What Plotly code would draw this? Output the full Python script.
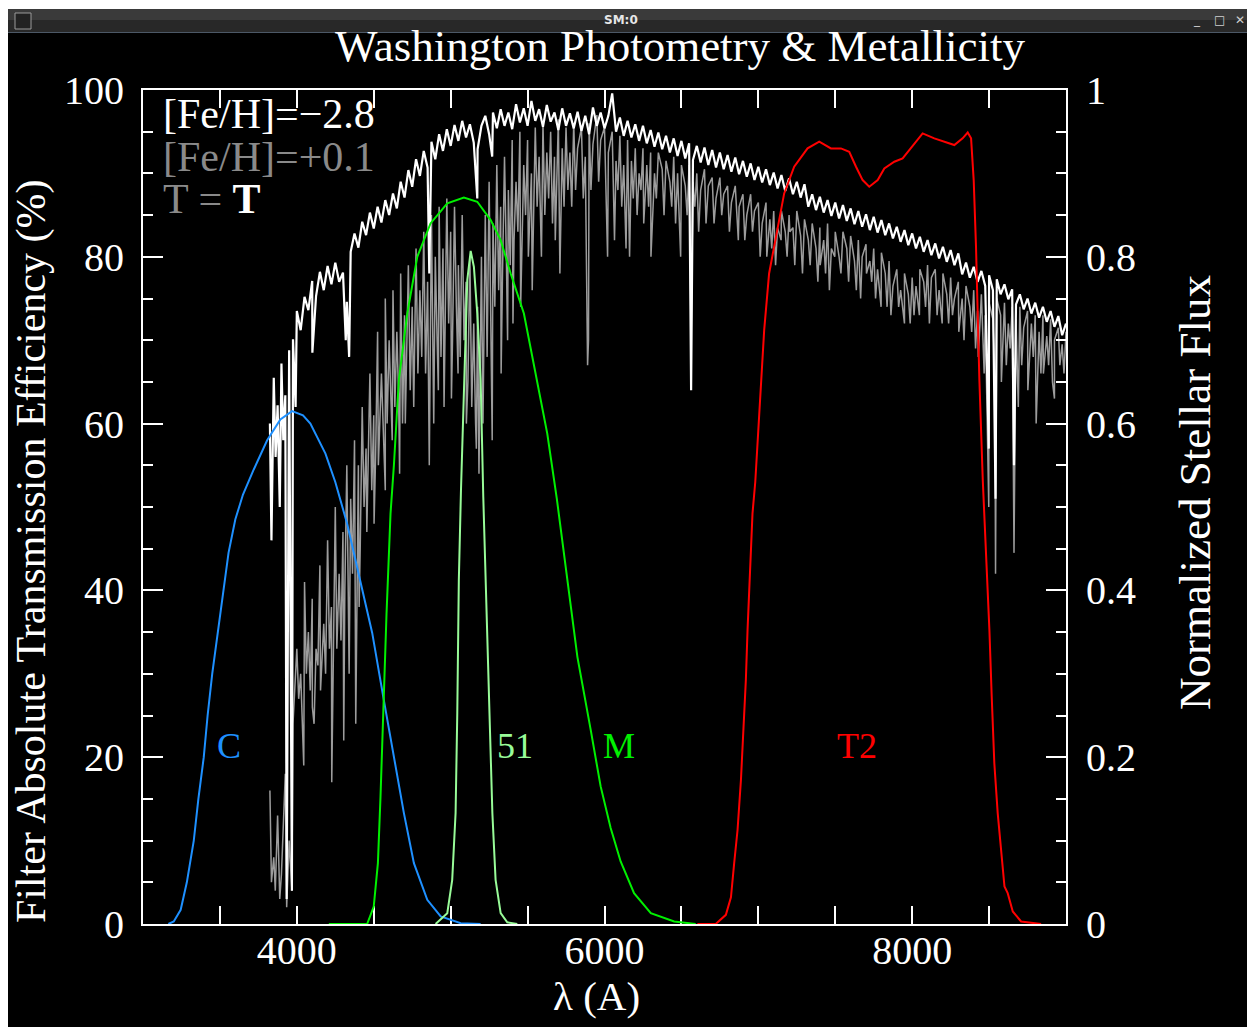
import numpy as np
import plotly.graph_objects as go

# ---------------- data ----------------
# spectra sampled on a 25 A grid from 3825 to 9000 A (normalized flux)
spec_wl = list(range(3825, 9001, 25))

flux_poor = [  # [Fe/H] = -2.8 (white)
    0.600, 0.655, 0.622, 0.672, 0.634, 0.688, 0.701, 0.735, 0.712, 0.752, 0.736, 0.771, 0.753, 0.782, 0.760, 0.789, 0.767, 0.793, 0.770, 0.781,
    0.746, 0.806, 0.828, 0.811, 0.842, 0.826, 0.853, 0.834, 0.860, 0.841, 0.868, 0.850, 0.876, 0.858, 0.890, 0.871, 0.904, 0.884, 0.917, 0.897,
    0.927, 0.907, 0.938, 0.917, 0.947, 0.927, 0.953, 0.933, 0.958, 0.939, 0.963, 0.943, 0.959, 0.937, 0.929, 0.957, 0.969, 0.947, 0.973, 0.954,
    0.977, 0.957, 0.973, 0.953, 0.983, 0.961, 0.978, 0.957, 0.987, 0.963, 0.977, 0.956, 0.982, 0.962, 0.973, 0.952, 0.978, 0.957, 0.972, 0.954,
    0.974, 0.951, 0.969, 0.947, 0.979, 0.957, 0.973, 0.954, 0.969, 0.996, 0.950, 0.967, 0.945, 0.963, 0.943, 0.959, 0.939, 0.957, 0.936, 0.952,
    0.932, 0.949, 0.929, 0.945, 0.925, 0.942, 0.921, 0.939, 0.918, 0.936, 0.916, 0.933, 0.913, 0.931, 0.910, 0.928, 0.907, 0.925, 0.905, 0.922,
    0.902, 0.919, 0.899, 0.915, 0.896, 0.912, 0.892, 0.908, 0.889, 0.905, 0.886, 0.901, 0.882, 0.898, 0.879, 0.894, 0.875, 0.890, 0.871, 0.887,
    0.860, 0.875, 0.856, 0.872, 0.853, 0.868, 0.849, 0.865, 0.846, 0.862, 0.843, 0.858, 0.839, 0.855, 0.836, 0.851, 0.832, 0.848, 0.829, 0.844,
    0.826, 0.840, 0.822, 0.836, 0.818, 0.832, 0.814, 0.828, 0.810, 0.824, 0.806, 0.820, 0.802, 0.816, 0.798, 0.812, 0.794, 0.808, 0.790, 0.804,
    0.779, 0.793, 0.775, 0.788, 0.770, 0.783, 0.765, 0.778, 0.760, 0.773, 0.755, 0.767, 0.749, 0.761, 0.743, 0.755, 0.737, 0.750, 0.732, 0.745,
    0.727, 0.740, 0.722, 0.735, 0.716, 0.729, 0.706, 0.720,
]

flux_rich = [  # [Fe/H] = +0.1 (gray)
    0.16, 0.08, 0.13, 0.06, 0.18, 0.10, 0.24, 0.33, 0.30, 0.41, 0.35, 0.39, 0.33, 0.43, 0.36, 0.46, 0.38, 0.50, 0.42, 0.47,
    0.55, 0.51, 0.58, 0.55, 0.62, 0.57, 0.66, 0.61, 0.71, 0.66, 0.75, 0.70, 0.76, 0.71, 0.78, 0.73, 0.79, 0.74, 0.81, 0.76,
    0.83, 0.77, 0.85, 0.80, 0.86, 0.81, 0.87, 0.83, 0.86, 0.79, 0.85, 0.77, 0.80, 0.72, 0.74, 0.80, 0.85, 0.89, 0.84, 0.91,
    0.86, 0.92, 0.88, 0.94, 0.89, 0.95, 0.91, 0.94, 0.90, 0.955, 0.92, 0.96, 0.925, 0.95, 0.92, 0.965, 0.93, 0.955, 0.925, 0.96,
    0.93, 0.955, 0.92, 0.96, 0.935, 0.97, 0.94, 0.955, 0.925, 0.95, 0.915, 0.945, 0.91, 0.94, 0.915, 0.93, 0.90, 0.93, 0.91, 0.925,
    0.90, 0.925, 0.905, 0.915, 0.89, 0.92, 0.90, 0.91, 0.885, 0.91, 0.89, 0.90, 0.88, 0.905, 0.885, 0.895, 0.87, 0.895, 0.875, 0.885,
    0.865, 0.885, 0.86, 0.875, 0.85, 0.875, 0.855, 0.865, 0.84, 0.865, 0.845, 0.855, 0.835, 0.855, 0.83, 0.85, 0.835, 0.855, 0.825, 0.845,
    0.82, 0.84, 0.81, 0.835, 0.82, 0.84, 0.81, 0.83, 0.80, 0.83, 0.81, 0.825, 0.795, 0.82, 0.80, 0.815, 0.795, 0.81, 0.785, 0.805,
    0.78, 0.795, 0.765, 0.785, 0.76, 0.78, 0.755, 0.775, 0.765, 0.785, 0.77, 0.79, 0.775, 0.785, 0.76, 0.78, 0.755, 0.775, 0.75, 0.77,
    0.75, 0.765, 0.74, 0.76, 0.735, 0.755, 0.73, 0.745, 0.725, 0.75, 0.73, 0.745, 0.72, 0.74, 0.725, 0.74, 0.715, 0.735, 0.72, 0.73,
    0.71, 0.73, 0.705, 0.725, 0.70, 0.715, 0.695, 0.71,
]

# absorption lines (wavelength, line-core flux)
lines_poor_wl = [3835, 3862, 3889, 3912, 3934, 3968, 3992, 4101, 4318, 4340, 4861, 5173, 5270, 6563, 8498, 8542, 8662]
lines_poor_min = [0.46, 0.56, 0.50, 0.58, 0.03, 0.04, 0.62, 0.685, 0.70, 0.68, 0.78, 0.87, 0.92, 0.64, 0.57, 0.51, 0.55]

# strong lines of the metal-rich spectrum
lines_rich_wl = [3835, 3860, 3889, 3934, 3968, 4045, 4101, 4112, 4154, 4227, 4260, 4305, 4340, 4383, 4405,
                 4455, 4502, 4530, 4575, 4620, 4668, 4705, 4760, 4861, 4890, 4920, 4957, 5005, 5048, 5102,
                 5167, 5184, 5210, 5270, 5328, 5370, 5405, 5455, 5505, 5530, 5590, 5680, 5710, 5890, 5896,
                 6020, 6065, 6140, 6163, 6255, 6302, 6495, 6563, 6660, 6870, 7055, 7148, 7205, 7402, 7497,
                 7665, 7703, 7798, 7950, 8047, 8195, 8303, 8430, 8468, 8498, 8542, 8580, 8662, 8690, 8752,
                 8806, 8853, 8925, 8960]
lines_rich_min = [0.05, 0.04, 0.03, 0.02, 0.04, 0.19, 0.26, 0.24, 0.28, 0.17, 0.33, 0.22, 0.30, 0.24, 0.38,
                  0.47, 0.48, 0.55, 0.52, 0.58, 0.54, 0.60, 0.62, 0.55, 0.60, 0.64, 0.62, 0.63, 0.66, 0.60,
                  0.57, 0.54, 0.60, 0.58, 0.66, 0.70, 0.72, 0.74, 0.80, 0.76, 0.80, 0.82, 0.78, 0.67, 0.70,
                  0.80, 0.82, 0.81, 0.80, 0.84, 0.80, 0.80, 0.70, 0.84, 0.82, 0.80, 0.82, 0.83, 0.79, 0.80,
                  0.75, 0.78, 0.74, 0.72, 0.73, 0.72, 0.71, 0.68, 0.66, 0.50, 0.42, 0.65, 0.445, 0.62, 0.64,
                  0.60, 0.66, 0.63, 0.67]

# weaker (blended) lines of the metal-rich spectrum
weak_rich_wl = [4012, 4062, 4087, 4137, 4187, 4212, 4237, 4287,
                4312, 4362, 4412, 4437, 4487, 4512, 4562, 4587, 4637, 4662, 4687, 4737, 4787,
                4812, 4837, 4912, 4937, 4987, 5012, 5037, 5062, 5087, 5112, 5137, 5162, 5237, 5262, 5287,
                5312, 5337, 5362, 5387, 5412, 5437, 5462, 5487, 5512, 5562, 5612, 5637, 5662, 5737, 5762, 5787,
                5812, 5862, 5912, 5962, 6012, 6087, 6112, 6187, 6212, 6237, 6287,
                6337, 6387, 6437, 6462, 6537, 6587, 6612, 6712, 6762, 6812, 6912, 6962,
                7012, 7087, 7112, 7187, 7237, 7287, 7337, 7387, 7437, 7462, 7537, 7587, 7637, 7737, 7762,
                7837, 7862, 7912, 7987,
                8012, 8087, 8112, 8162, 8237, 8262, 8337, 8387, 8412, 8537, 8612, 8637, 8712, 8787, 8837,
                8887, 8912, 8987]
weak_rich_min = [0.27, 0.30, 0.28, 0.31, 0.30, 0.33, 0.35, 0.34,
                 0.40, 0.42, 0.45, 0.50, 0.52, 0.56, 0.58, 0.60, 0.62, 0.63, 0.60, 0.64, 0.66,
                 0.68, 0.66, 0.70, 0.68, 0.72, 0.70, 0.74, 0.68, 0.70, 0.65, 0.62, 0.60, 0.68, 0.70, 0.74,
                 0.76, 0.78, 0.80, 0.79, 0.82, 0.83, 0.80, 0.85, 0.84, 0.86, 0.85, 0.87, 0.84, 0.86, 0.88, 0.86,
                 0.88, 0.87, 0.88, 0.89, 0.86, 0.88, 0.86, 0.87, 0.85, 0.88, 0.86,
                 0.87, 0.85, 0.86, 0.84, 0.85, 0.86, 0.83, 0.84, 0.85, 0.83, 0.82, 0.83,
                 0.80, 0.81, 0.79, 0.80, 0.79, 0.78, 0.79, 0.77, 0.78, 0.76, 0.78, 0.77, 0.76, 0.77, 0.75,
                 0.74, 0.73, 0.74, 0.72,
                 0.73, 0.74, 0.72, 0.73, 0.72, 0.73, 0.70, 0.71, 0.69, 0.66, 0.67, 0.69, 0.67, 0.68, 0.66,
                 0.67, 0.65, 0.66]

# filter transmission curves (%)
C_wl = [3165, 3200, 3245, 3285, 3330, 3360, 3395, 3420, 3450, 3485, 3520, 3556, 3600, 3650, 3720, 3807,
        3893, 3969, 4040, 4088, 4186, 4250, 4327, 4414, 4490, 4565, 4631, 4696, 4761, 4848, 4935, 5065, 5195]
C_T = [0, 0.3, 1.7, 5, 10, 15, 20, 25, 30, 35, 40, 44.5, 48.5, 51.5, 54.5, 58,
       60.5, 61.5, 61, 60, 56.4, 53, 48, 41.2, 34.9, 26.9, 20, 13.3, 7.3, 2.9, 0.9, 0.1, 0]

M_wl = [4208, 4457, 4500, 4527, 4544, 4561, 4583, 4609, 4631, 4663, 4718, 4783, 4869, 4978, 5086, 5173,
        5260, 5325, 5390, 5476, 5541, 5628, 5690, 5759, 5824, 5910, 5975, 6040, 6105, 6192, 6301, 6453, 6593]
M_T = [0, 0, 2.1, 7.3, 15.3, 25.3, 37.2, 49.2, 55, 65.2, 73.2, 80, 84, 86.4, 87.1, 86.6,
       84.4, 82, 78, 73.2, 67.2, 58.8, 51, 41.2, 32, 23.3, 16.5, 11.5, 7.5, 3.7, 1.3, 0.3, 0]

F51_wl = [4902, 4978, 5010, 5032, 5043, 5053, 5067, 5086, 5108, 5130, 5151, 5173, 5195, 5212, 5227,
          5249, 5271, 5292, 5325, 5368, 5433]
F51_T = [0, 1.3, 5.3, 13.3, 25.3, 41.2, 52, 65.2, 77.2, 80.7, 78.8, 73.2, 65.2, 51.2, 41.2,
         25.3, 13.3, 5.3, 1.3, 0.2, 0]

T2_wl = [6604, 6723, 6789, 6822, 6843, 6865, 6887, 6904, 6919, 6930, 6947, 6962, 6980, 7005, 7038, 7070,
         7114, 7168, 7233, 7320, 7396, 7472, 7537, 7591, 7635, 7678, 7721, 7776, 7819, 7884, 7938, 7992,
         8068, 8144, 8209, 8274, 8328, 8361, 8383, 8400, 8415, 8426, 8437, 8459, 8480, 8502, 8517, 8534,
         8556, 8578, 8600, 8621, 8654, 8708, 8838]
T2_T = [0, 0, 1.1, 3.2, 7.3, 11.3, 17.3, 23.3, 29.3, 35.3, 43.2, 49.2, 53, 61.2, 71.2, 78,
        82.4, 87.6, 90.8, 93, 93.8, 93, 93, 92.6, 90.8, 89.2, 88.4, 89.2, 90.6, 91.4, 91.8, 93,
        94.8, 94.2, 93.8, 93.4, 94.2, 94.9, 94.2, 89.2, 81.2, 73.2, 65.2, 53.2, 45.2, 35.3, 27.3, 19.3,
        13.3, 8.5, 4.5, 3.7, 1.5, 0.3, 0]

filter_names = ["C", "51", "M", "T2"]
filter_label_wl = [3557, 5418, 6095, 7643]
filter_label_T = [21.3, 21.3, 21.3, 21.3]

# ---------------- styling ----------------
COL_C, COL_M, COL_51, COL_T2 = "#1e90ff", "#00f000", "#98fb98", "#ff0000"
COL_RICH, COL_TXT_GRAY = "#9c9c9c", "#8a8a8a"
SERIF = "Liberation Serif"

W, H = 1247, 1027
L, R, T, B = 143, 1066, 90, 924


def pxx(xp):
    return (xp - L) / (R - L)


def pxy(yp):
    return (B - yp) / (B - T)


def merge(grid, flux, lw, lm):
    pts = sorted(list(zip(grid, flux)) + list(zip(lw, lm)))
    return [p[0] for p in pts], [p[1] for p in pts]


rich_x, rich_y = merge(spec_wl, flux_rich, lines_rich_wl + weak_rich_wl, lines_rich_min + weak_rich_min)
poor_x, poor_y = merge(spec_wl, flux_poor, lines_poor_wl, lines_poor_min)

fig = go.Figure()
# spectra on base axis y (flux, right side)
fig.add_trace(go.Scatter(x=rich_x, y=rich_y, mode="lines", line=dict(color=COL_RICH, width=1.5),
                         yaxis="y", hoverinfo="skip", showlegend=False))
fig.add_trace(go.Scatter(x=poor_x, y=poor_y, mode="lines", line=dict(color="#ffffff", width=2.2),
                         yaxis="y", hoverinfo="skip", showlegend=False))
# filters on overlaying axis y2 (percent, left side)
for wl, tr, col in [(C_wl, C_T, COL_C), (M_wl, M_T, COL_M), (F51_wl, F51_T, COL_51), (T2_wl, T2_T, COL_T2)]:
    fig.add_trace(go.Scatter(x=wl, y=tr, mode="lines", line=dict(color=col, width=2),
                             yaxis="y2", hoverinfo="skip", showlegend=False))

tickfont = dict(family=SERIF, size=40, color="white")
common = dict(showgrid=False, zeroline=False, ticks="inside", tickcolor="white", tickwidth=2,
              showline=True, linecolor="white", linewidth=2, tickfont=tickfont)

fig.update_layout(
    width=W, height=H, autosize=False,
    margin=dict(l=L, r=W - R, t=T, b=H - B, pad=0),
    paper_bgcolor="black", plot_bgcolor="black",
    xaxis=dict(range=[3000, 9000], tickmode="linear", tick0=0, dtick=2000, ticklen=18,
               mirror="allticks", layer="below traces", ticklabelstandoff=-10,
               minor=dict(dtick=500, tick0=0, ticks="inside", ticklen=9, tickwidth=2, tickcolor="white", showgrid=False),
               **common),
    yaxis=dict(range=[0, 1], side="right", tickmode="linear", tick0=0, dtick=0.2, ticklen=20,
               ticklabelstandoff=10,
               minor=dict(dtick=0.05, tick0=0, ticks="inside", ticklen=10, tickwidth=2, tickcolor="white", showgrid=False),
               **common),
    yaxis2=dict(range=[0, 100], side="left", overlaying="y", tickmode="linear", tick0=0, dtick=20, ticklen=20,
                ticklabelstandoff=9,
                minor=dict(dtick=5, tick0=0, ticks="inside", ticklen=10, tickwidth=2, tickcolor="white", showgrid=False),
                **common),
)

ann = []
# title and axis titles
ann.append(dict(text="Washington Photometry & Metallicity", x=pxx(680), y=pxy(46), xref="paper", yref="paper",
                showarrow=False, xanchor="center", yanchor="middle", font=dict(family=SERIF, size=45, color="white")))
ann.append(dict(text="Filter Absolute Transmission Efficiency (%)", x=pxx(31), y=pxy(551), xref="paper", yref="paper",
                showarrow=False, textangle=-90, xanchor="center", yanchor="middle",
                font=dict(family=SERIF, size=42, color="white")))
ann.append(dict(text="Normalized Stellar Flux", x=pxx(1195), y=pxy(493), xref="paper", yref="paper",
                showarrow=False, textangle=-90, xanchor="center", yanchor="middle",
                font=dict(family=SERIF, size=45, color="white")))
ann.append(dict(text="λ (A)", x=pxx(596), y=pxy(996), xref="paper", yref="paper",
                showarrow=False, xanchor="center", yanchor="middle", font=dict(family=SERIF, size=41, color="white")))
# legend texts
ann.append(dict(text="[Fe/H]=\u22122.8", x=pxx(161), y=pxy(114), xref="paper", yref="paper", showarrow=False,
                xanchor="left", yanchor="middle", font=dict(family=SERIF, size=42, color="white")))
ann.append(dict(text="[Fe/H]=+0.1", x=pxx(161), y=pxy(157), xref="paper", yref="paper", showarrow=False,
                xanchor="left", yanchor="middle", font=dict(family=SERIF, size=42, color=COL_TXT_GRAY)))
ann.append(dict(text="<span style='color:%s'>T = </span><b>T</b>" % COL_TXT_GRAY, x=pxx(161), y=pxy(199),
                xref="paper", yref="paper", showarrow=False, xanchor="left", yanchor="middle",
                font=dict(family=SERIF, size=42, color="white")))
# filter labels
for name, lx, ly, col in zip(filter_names, filter_label_wl, filter_label_T, [COL_C, COL_51, COL_M, COL_T2]):
    ann.append(dict(text=name, x=lx, y=ly, xref="x", yref="y2", showarrow=False, xanchor="center",
                    yanchor="middle", font=dict(family=SERIF, size=36, color=col)))
# window title bar texts
ann.append(dict(text="<b>SM:0</b>", x=pxx(621), y=pxy(20), xref="paper", yref="paper", showarrow=False,
                xanchor="center", yanchor="middle", font=dict(family="DejaVu Sans", size=12, color="#e6e6e6")))
for sym, xp in [("_", 1197), ("\u25a1", 1219), ("\u2715", 1240)]:
    ann.append(dict(text=sym, x=pxx(xp), y=pxy(20), xref="paper", yref="paper", showarrow=False,
                    xanchor="center", yanchor="middle", font=dict(family="DejaVu Sans", size=12, color="#d0d0d0")))

shapes = [
    dict(type="rect", xref="paper", yref="paper", x0=pxx(0), x1=pxx(8), y0=pxy(1027), y1=pxy(0),
         fillcolor="white", line=dict(width=0), layer="below"),
    dict(type="rect", xref="paper", yref="paper", x0=pxx(0), x1=pxx(1247), y0=pxy(9), y1=pxy(0),
         fillcolor="white", line=dict(width=0), layer="below"),
    dict(type="rect", xref="paper", yref="paper", x0=pxx(8), x1=pxx(1247), y0=pxy(20), y1=pxy(9),
         fillcolor="#3a3a3a", line=dict(width=0), layer="below"),
    dict(type="rect", xref="paper", yref="paper", x0=pxx(8), x1=pxx(1247), y0=pxy(32), y1=pxy(20),
         fillcolor="#282828", line=dict(width=0), layer="below"),
    dict(type="rect", xref="paper", yref="paper", x0=pxx(8), x1=pxx(1247), y0=pxy(33), y1=pxy(32),
         fillcolor="#4c5866", line=dict(width=0), layer="below"),
    dict(type="rect", xref="paper", yref="paper", x0=pxx(15), x1=pxx(31), y0=pxy(29), y1=pxy(13),
         fillcolor="#222222", line=dict(width=1, color="#9a9a9a"), layer="below"),
]

fig.update_layout(annotations=ann, shapes=shapes)

fig.write_html("out.html", config={"displayModeBar": False},
               post_script="document.body.style.margin='0';document.body.style.overflow='hidden';")
